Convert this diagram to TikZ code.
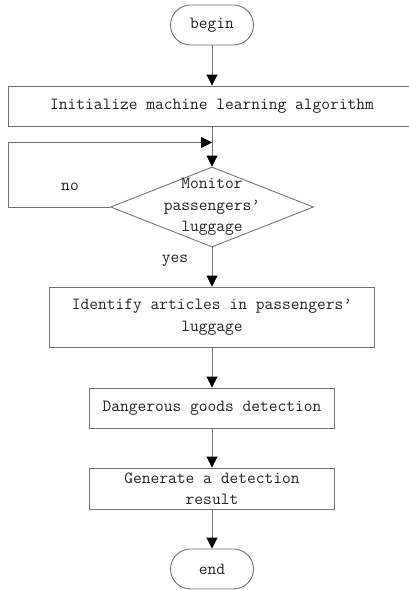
\documentclass[tikz,border=0pt]{standalone}
\usepackage{xcolor}
\usepackage{tikz}
\usetikzlibrary{shapes.geometric, arrows.meta}
\definecolor{linegray}{RGB}{115,115,115}
\definecolor{textgray}{RGB}{35,35,35}
\tikzset{
  flow/.style={
    draw = linegray,
    line width = 0.9pt,
    -{Triangle[length=11pt, width=11pt, black]}
  }
}
\tikzset{
  terminal/.style={
    draw = linegray,
    line width = 0.9pt,
    rounded corners = 20pt,
    minimum width = 83pt,
    minimum height = 40pt,
    inner sep = 0pt
  },
  process/.style={
    draw = linegray,
    line width = 0.9pt,
    minimum height = 40pt,
    inner sep = 0pt,
    align = center
  },
  decision/.style={
    draw = linegray,
    line width = 0.9pt,
    diamond,
    minimum width = 203pt,
    minimum height = 80pt,
    inner sep = 0pt
  }
}

\begin{document}
\begin{tikzpicture}[x=1pt, y=-1pt, every node/.style={font=\fontsize{17}{21.5}\selectfont\ttfamily, text=textgray}]
\useasboundingbox (0,0) rectangle (409,590);
\newcommand\XMid{212}
\node[terminal] (Begin) at (\XMid,25) {begin};
\node[process, minimum width=408pt] (Init) at (\XMid,106) {Initialize machine learning algorithm};
\node[decision] (Monitor) at (\XMid,207) {};
\node[align=center, inner sep=0pt] (MonitorText) at (Monitor.center) {Monitor\\passengers\textquoteright\\luggage};
\node[process, minimum width=325pt, minimum height=60pt] (Identify) at (\XMid,317) {Identify articles in passengers\textquoteright\\luggage};
\node[process, minimum width=245pt] (Danger) at (\XMid,408) {Dangerous goods detection};
\node[process, minimum width=245pt, minimum height=41pt] (Result) at (\XMid,488.5) {Generate a detection\\result};
\node[terminal] (End) at (\XMid,569) {end};
\node (No) at (70,187) {no};
\node (Yes) at (175,261) {yes};
\coordinate (LoopCorner) at (8,142.5);
\coordinate (LoopJoin) at (\XMid,142.5);

\path (Begin) edge[flow] (Init)
      (Init) edge[flow] (Monitor)
      (Monitor) edge[flow] (Identify)
      (Identify) edge[flow] (Danger)
      (Danger) edge[flow] (Result)
      (Result) edge[flow] (End);

\draw[flow] (Monitor.west) -| (LoopCorner) -- (LoopJoin);
\end{tikzpicture}
\end{document}
